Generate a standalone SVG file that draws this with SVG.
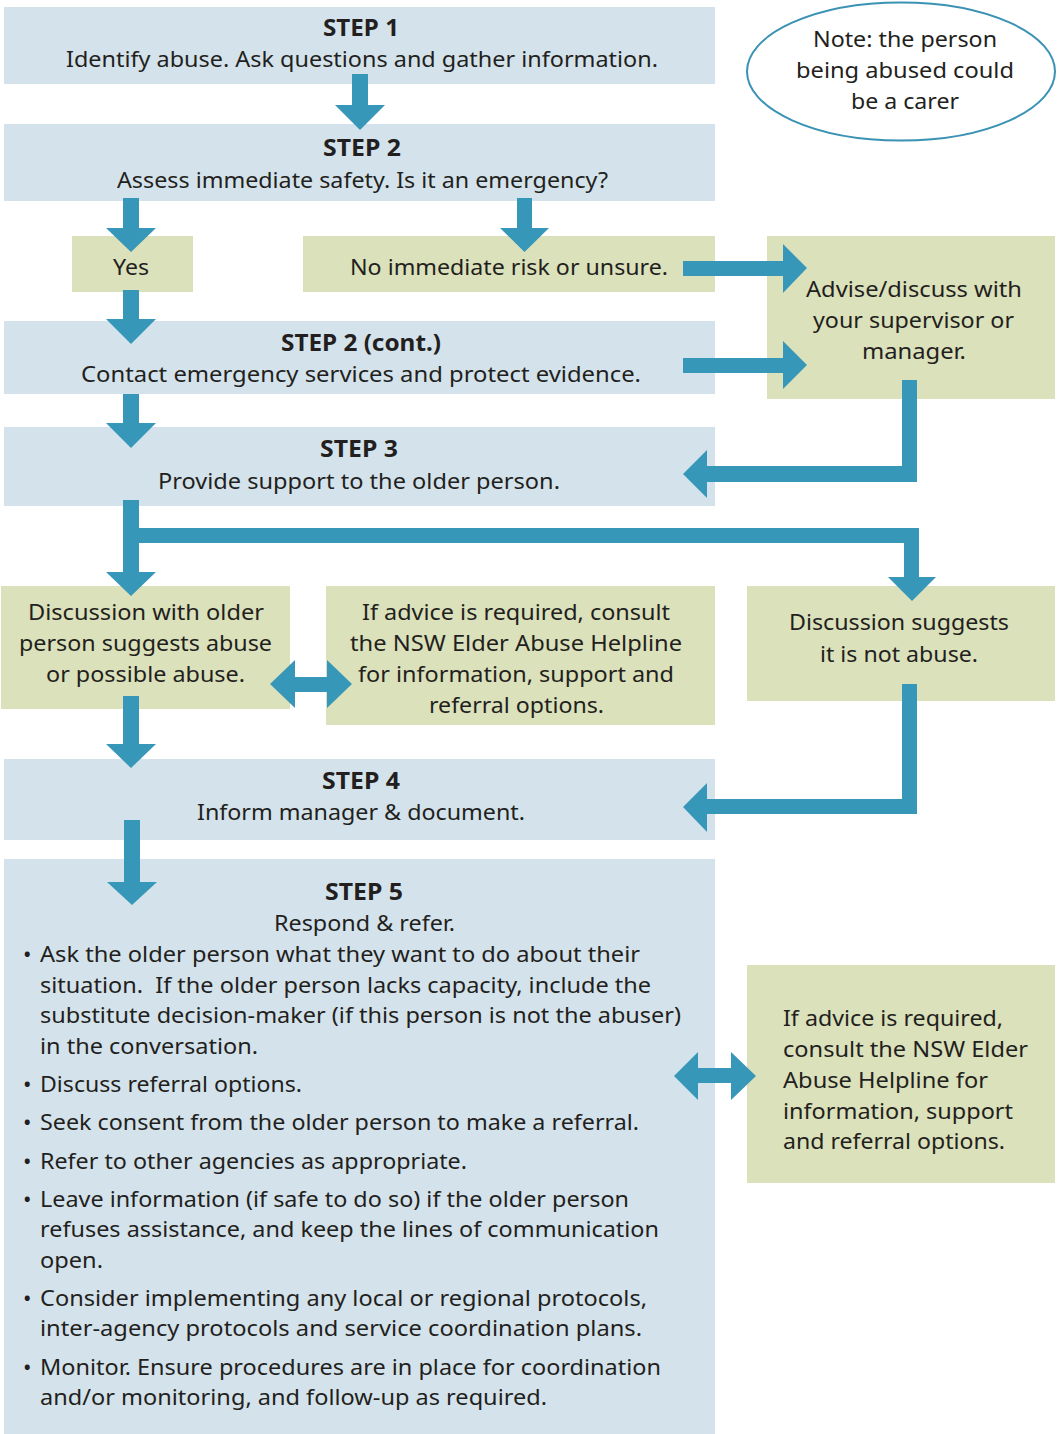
<svg xmlns="http://www.w3.org/2000/svg" width="1062" height="1434" viewBox="0 0 1062 1434">
<style>
.bl{fill:#d4e3eb}
.gr{fill:#dbe1ba}
.t{font-family:"Noto Sans","Open Sans","Liberation Sans",sans-serif;font-size:22.5px;fill:#231f20}
.c{text-anchor:middle}
.b{font-weight:bold}
.ar{fill:#3797b8}
</style>
<rect width="1062" height="1434" fill="#ffffff"/>
<g id="step1">
<rect class="bl" x="4" y="7" width="711" height="77"/>
<text class="t b c" x="361" y="36" textLength="76" lengthAdjust="spacingAndGlyphs">STEP 1</text>
<text class="t" x="66" y="67" textLength="592" lengthAdjust="spacingAndGlyphs">Identify abuse. Ask questions and gather information.</text>
</g>
<g id="step2">
<rect class="bl" x="4" y="124" width="711" height="77"/>
<text class="t b c" x="362" y="156" textLength="78" lengthAdjust="spacingAndGlyphs">STEP 2</text>
<text class="t" x="117" y="188" textLength="491" lengthAdjust="spacingAndGlyphs">Assess immediate safety. Is it an emergency?</text>
</g>
<g id="yes">
<rect class="gr" x="72" y="236" width="121" height="56"/>
<text class="t" x="113" y="275" textLength="36" lengthAdjust="spacingAndGlyphs">Yes</text>
</g>
<g id="no-risk">
<rect class="gr" x="303" y="236" width="412" height="56"/>
<text class="t" x="350" y="275" textLength="318" lengthAdjust="spacingAndGlyphs">No immediate risk or unsure.</text>
</g>
<g id="advise">
<rect class="gr" x="767" y="236" width="288" height="163"/>
<text class="t" x="806" y="297" textLength="216" lengthAdjust="spacingAndGlyphs">Advise/discuss with</text>
<text class="t" x="813" y="328" textLength="201" lengthAdjust="spacingAndGlyphs">your supervisor or</text>
<text class="t" x="862" y="359" textLength="104" lengthAdjust="spacingAndGlyphs">manager.</text>
</g>
<g id="note">
<ellipse cx="901" cy="71.5" rx="154" ry="69" fill="#ffffff" stroke="#3a92b4" stroke-width="2"/>
<text class="t" x="813" y="47" textLength="184" lengthAdjust="spacingAndGlyphs">Note: the person</text>
<text class="t" x="796" y="78" textLength="218" lengthAdjust="spacingAndGlyphs">being abused could</text>
<text class="t" x="851" y="109" textLength="108" lengthAdjust="spacingAndGlyphs">be a carer</text>
</g>
<g id="step2cont">
<rect class="bl" x="4" y="321" width="711" height="73"/>
<text class="t b" x="281" y="351" textLength="160" lengthAdjust="spacingAndGlyphs">STEP 2 (cont.)</text>
<text class="t" x="81" y="382" textLength="560" lengthAdjust="spacingAndGlyphs">Contact emergency services and protect evidence.</text>
</g>
<g id="step3">
<rect class="bl" x="4" y="427" width="711" height="79"/>
<text class="t b" x="320" y="457" textLength="78" lengthAdjust="spacingAndGlyphs">STEP 3</text>
<text class="t" x="158" y="489" textLength="402" lengthAdjust="spacingAndGlyphs">Provide support to the older person.</text>
</g>
<g id="discussion-abuse">
<rect class="gr" x="1" y="586" width="289" height="123"/>
<text class="t" x="28" y="620" textLength="236" lengthAdjust="spacingAndGlyphs">Discussion with older</text>
<text class="t" x="19" y="651" textLength="253" lengthAdjust="spacingAndGlyphs">person suggests abuse</text>
<text class="t" x="46" y="682" textLength="199" lengthAdjust="spacingAndGlyphs">or possible abuse.</text>
</g>
<g id="helpline-1">
<rect class="gr" x="326" y="586" width="389" height="139"/>
<text class="t" x="362" y="620" textLength="308" lengthAdjust="spacingAndGlyphs">If advice is required, consult</text>
<text class="t" x="350" y="651" textLength="332" lengthAdjust="spacingAndGlyphs">the NSW Elder Abuse Helpline</text>
<text class="t" x="358" y="682" textLength="316" lengthAdjust="spacingAndGlyphs">for information, support and</text>
<text class="t" x="429" y="713" textLength="175" lengthAdjust="spacingAndGlyphs">referral options.</text>
</g>
<g id="not-abuse">
<rect class="gr" x="747" y="586" width="308" height="115"/>
<text class="t" x="789" y="630" textLength="220" lengthAdjust="spacingAndGlyphs">Discussion suggests</text>
<text class="t" x="820" y="662" textLength="158" lengthAdjust="spacingAndGlyphs">it is not abuse.</text>
</g>
<g id="step4">
<rect class="bl" x="4" y="759" width="711" height="81"/>
<text class="t b" x="322" y="789" textLength="78" lengthAdjust="spacingAndGlyphs">STEP 4</text>
<text class="t" x="197" y="820" textLength="328" lengthAdjust="spacingAndGlyphs">Inform manager &amp; document.</text>
</g>
<g id="step5">
<rect class="bl" x="4" y="859" width="711" height="575"/>
<text class="t b" x="325" y="900" textLength="78" lengthAdjust="spacingAndGlyphs">STEP 5</text>
<text class="t" x="274" y="931" textLength="181" lengthAdjust="spacingAndGlyphs">Respond &amp; refer.</text>
<text class="t" x="23" y="962">•</text>
<text class="t" x="40" y="962" textLength="600" lengthAdjust="spacingAndGlyphs">Ask the older person what they want to do about their</text>
<text class="t" x="40" y="993" textLength="611" lengthAdjust="spacingAndGlyphs" xml:space="preserve">situation.  If the older person lacks capacity, include the</text>
<text class="t" x="40" y="1023" textLength="641" lengthAdjust="spacingAndGlyphs">substitute decision-maker (if this person is not the abuser)</text>
<text class="t" x="40" y="1054" textLength="218" lengthAdjust="spacingAndGlyphs">in the conversation.</text>
<text class="t" x="23" y="1092">•</text>
<text class="t" x="40" y="1092" textLength="262" lengthAdjust="spacingAndGlyphs">Discuss referral options.</text>
<text class="t" x="23" y="1130">•</text>
<text class="t" x="40" y="1130" textLength="599" lengthAdjust="spacingAndGlyphs">Seek consent from the older person to make a referral.</text>
<text class="t" x="23" y="1169">•</text>
<text class="t" x="40" y="1169" textLength="427" lengthAdjust="spacingAndGlyphs">Refer to other agencies as appropriate.</text>
<text class="t" x="23" y="1207">•</text>
<text class="t" x="40" y="1207" textLength="589" lengthAdjust="spacingAndGlyphs">Leave information (if safe to do so) if the older person</text>
<text class="t" x="40" y="1237" textLength="619" lengthAdjust="spacingAndGlyphs">refuses assistance, and keep the lines of communication</text>
<text class="t" x="40" y="1268" textLength="63" lengthAdjust="spacingAndGlyphs">open.</text>
<text class="t" x="23" y="1306">•</text>
<text class="t" x="40" y="1306" textLength="607" lengthAdjust="spacingAndGlyphs">Consider implementing any local or regional protocols,</text>
<text class="t" x="40" y="1336" textLength="602" lengthAdjust="spacingAndGlyphs">inter-agency protocols and service coordination plans.</text>
<text class="t" x="23" y="1375">•</text>
<text class="t" x="40" y="1375" textLength="621" lengthAdjust="spacingAndGlyphs">Monitor. Ensure procedures are in place for coordination</text>
<text class="t" x="40" y="1405" textLength="507" lengthAdjust="spacingAndGlyphs">and/or monitoring, and follow-up as required.</text>
</g>
<g id="helpline-2">
<rect class="gr" x="747" y="965" width="308" height="218"/>
<text class="t" x="783" y="1026" textLength="220" lengthAdjust="spacingAndGlyphs">If advice is required,</text>
<text class="t" x="783" y="1057" textLength="245" lengthAdjust="spacingAndGlyphs">consult the NSW Elder</text>
<text class="t" x="783" y="1088" textLength="205" lengthAdjust="spacingAndGlyphs">Abuse Helpline for</text>
<text class="t" x="783" y="1119" textLength="230" lengthAdjust="spacingAndGlyphs">information, support</text>
<text class="t" x="783" y="1149" textLength="222" lengthAdjust="spacingAndGlyphs">and referral options.</text>
</g>
<g id="connectors">
<polygon class="ar" points="352,74 368,74 368,105 385,105 360,130 335,105 352,105"/>
<polygon class="ar" points="123,198 139,198 139,228 156,228 131,252 106,228 123,228"/>
<polygon class="ar" points="517,198 532,198 532,228 549,228 524.5,252 500,228 517,228"/>
<polygon class="ar" points="123,290 139,290 139,319 156,319 131,344 106,319 123,319"/>
<polygon class="ar" points="123,394 139,394 139,423 156,423 131,448 106,423 123,423"/>
<polygon class="ar" points="683,261 783,261 783,244 807,268 783,293 783,276 683,276"/>
<polygon class="ar" points="683,358 783,358 783,341 807,365 783,389 783,373 683,373"/>
<path class="ar" d="M902,380 H917 V482 H707 V498 L683,474 L707,450 V466 H902 Z"/>
<path class="ar" d="M123,500 H139 V528 H919 V577 H936 L912,601 L888,577 H904 V543 H139 V572 H156 L131,596 L106,572 H123 Z"/>
<polygon class="ar" points="123,696 139,696 139,744 156,744 131,768 106,744 123,744"/>
<path class="ar" d="M270,684 L295,660 V677 H327 V660 L352,684 L327,708 V692 H295 V708 Z"/>
<path class="ar" d="M902,684 H917 V814 H707 V832 L683,807 L707,783 V799 H902 Z"/>
<polygon class="ar" points="124,820 140,820 140,882 157,882 132,905 107,882 124,882"/>
<path class="ar" d="M674,1076 L698,1052 V1068 H731 V1052 L756,1076 L731,1100 V1083 H698 V1100 Z"/>
</g>
</svg>
